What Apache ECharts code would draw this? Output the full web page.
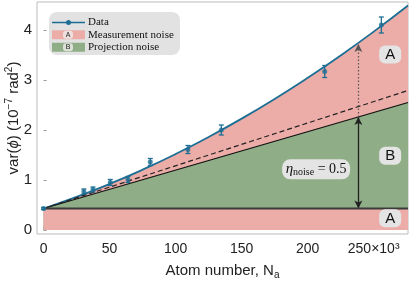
<!DOCTYPE html>
<html><head><meta charset="utf-8">
<script src="https://cdn.jsdelivr.net/npm/echarts@6/dist/echarts.min.js"></script>
<style>html,body{margin:0;padding:0;background:#fff}#c{width:415px;height:281px}</style>
</head><body><div id="c"></div>
<script>
// ---- data (x in units of 10^3 atoms, y in 10^-7 rad^2) ----
const dataX = [0, 30.5, 37.4, 50.5, 63.9, 80.8, 109.3, 134.6, 212.9, 255.8];
const dataY = [0.43, 0.77, 0.81, 0.95, 1.01, 1.36, 1.61, 2.0, 3.17, 4.1];
const dataErr = [0.02, 0.05, 0.05, 0.06, 0.06, 0.07, 0.08, 0.1, 0.12, 0.16];
const fitX = [0, 25, 50, 75, 100, 125, 150, 175, 200, 225, 250, 276];
const fitY = [0.43, 0.662, 0.921, 1.207, 1.52, 1.86, 2.227, 2.621, 3.043, 3.491, 3.967, 4.49];
const projX = [0, 276];
const projY = [0.43, 2.55];
const linX = [0, 276];
const linY = [0.43, 2.79];
const floorX = [0, 276];
const floorY = [0.43, 0.43];
const xTicks = [0, 50, 100, 150, 200, 250];
const yTicks = [0, 1, 2, 3, 4];
const arrowX = 238.4;
const arrowLevels = [0.0, 0.43, 2.26, 3.72];

const PINK = '#ecaca7', GREEN = '#8fad86', BLUE = '#1d6e94';
const pairs = (xs, ys) => xs.map((x, i) => [x, ys[i]]);

const chart = echarts.init(document.getElementById('c'), null, {renderer: 'canvas'});
const sans = 'Liberation Sans, Arial, sans-serif';
const serif = 'Liberation Serif, Times New Roman, serif';

chart.setOption({
  animation: false,
  grid: {left: 37, right: 7, top: 2, bottom: 47, show: true, borderColor: '#bbbbbb', borderWidth: 1,
         backgroundColor: 'transparent', containLabel: false, outerBoundsMode: 'none'},
  xAxis: {
    type: 'value', min: -5, max: 276,
    axisLine: {show: false}, splitLine: {show: false},
    axisTick: {show: true, inside: true, length: 3, lineStyle: {color: '#999'}, customValues: xTicks},
    axisLabel: {customValues: xTicks, color: '#222', fontFamily: sans, fontSize: 14, margin: 8,
      formatter: v => v === 250 ? '250×10³' : String(v)},
    name: '{t|Atom number, N}{s|a}', nameLocation: 'middle', nameGap: 28, nameMoveOverlap: false,
    nameTextStyle: {rich: {
      t: {fontFamily: sans, fontSize: 15, color: '#222', lineHeight: 18},
      s: {fontFamily: sans, fontSize: 10, color: '#222', lineHeight: 10, verticalAlign: 'bottom'}
    }}
  },
  yAxis: {
    type: 'value', min: -0.08, max: 4.56,
    axisLine: {show: false}, splitLine: {show: false},
    axisTick: {show: true, inside: true, length: 3, lineStyle: {color: '#999'}, customValues: yTicks},
    axisLabel: {customValues: yTicks, color: '#222', fontFamily: sans, fontSize: 15, margin: 5},
    name: '{t|var(}{i|ϕ}{t|) (10}{s|−7}{t| rad}{s|2}{t|)}', nameLocation: 'middle', nameRotate: 90, nameGap: 13,
    nameMoveOverlap: false,
    nameTextStyle: {rich: {
      t: {fontFamily: sans, fontSize: 15, color: '#222', lineHeight: 20},
      i: {fontFamily: sans, fontSize: 15, fontStyle: 'italic', color: '#222', lineHeight: 20},
      s: {fontFamily: sans, fontSize: 10, color: '#222', lineHeight: 10, verticalAlign: 'top'}
    }}
  },
  series: [
    {type: 'line', data: pairs(fitX, fitY), smooth: true, showSymbol: false, z: 2,
     lineStyle: {color: BLUE, width: 1.8}, areaStyle: {color: PINK, opacity: 1}},
    {type: 'line', data: pairs(projX, projY), showSymbol: false, z: 3,
     lineStyle: {color: '#111', width: 1.3}, areaStyle: {color: GREEN, opacity: 1}},
    {type: 'line', data: pairs(linX, linY), showSymbol: false, z: 4,
     lineStyle: {color: '#222', width: 1.2, type: [5, 3]}},
    {type: 'line', data: pairs(floorX, floorY), showSymbol: false, z: 5,
     lineStyle: {color: '#3a3a3a', width: 2}, areaStyle: {color: PINK, opacity: 1},
     markLine: {
       silent: true, animation: false, label: {show: false}, symbolSize: [6, 8],
       data: [
         [{coord: [arrowX, arrowLevels[2]], symbol: 'none', lineStyle: {type: [1.5, 2], color: '#555', width: 1.2}},
          {coord: [arrowX, arrowLevels[3]], symbol: 'arrow'}],
         [{coord: [arrowX, arrowLevels[1]], symbol: 'arrow', lineStyle: {type: 'solid', color: '#222', width: 1.3}},
          {coord: [arrowX, arrowLevels[2]], symbol: 'arrow'}],
         [{coord: [arrowX, arrowLevels[1]], symbol: 'none', lineStyle: {type: [1.5, 2], color: '#555', width: 1.2}},
          {coord: [arrowX, arrowLevels[0] + 0.04], symbol: 'arrow'}]
       ],
       lineStyle: {color: '#222'}, itemStyle: {color: '#222'}
     }},
    {type: 'custom', z: 6, data: dataX.map((x, i) => [x, dataY[i] - dataErr[i], dataY[i] + dataErr[i]]),
     renderItem: (params, api) => {
       const lo = api.coord([api.value(0), api.value(1)]);
       const hi = api.coord([api.value(0), api.value(2)]);
       const w = 2.5;
       const st = {stroke: BLUE, lineWidth: 1.3};
       return {type: 'group', children: [
         {type: 'line', shape: {x1: lo[0], y1: lo[1], x2: hi[0], y2: hi[1]}, style: st},
         {type: 'line', shape: {x1: lo[0] - w, y1: lo[1], x2: lo[0] + w, y2: lo[1]}, style: st},
         {type: 'line', shape: {x1: hi[0] - w, y1: hi[1], x2: hi[0] + w, y2: hi[1]}, style: st}
       ]};
     }},
    {type: 'scatter', z: 7, data: pairs(dataX, dataY), symbol: 'circle', symbolSize: 5,
     itemStyle: {color: BLUE}}
  ]
});

// annotation boxes placed in data coordinates
const boxes = [
  {pos: [262.5, 3.51], text: 'A'},
  {pos: [262.5, 1.486], text: 'B'},
  {pos: [262.5, 0.234], text: 'A'}
];
const g = [];
boxes.forEach(b => {
  const p = chart.convertToPixel({gridIndex: 0}, b.pos);
  g.push({type: 'rect', shape: {x: p[0] - 11, y: p[1] - 9, width: 22, height: 18, r: 6},
          style: {fill: '#e4e4e4'}, z: 20});
  g.push({type: 'text', x: p[0], y: p[1] + 0.5, style: {text: b.text, fill: '#111', font: '15px ' + sans,
          align: 'center', verticalAlign: 'middle'}, z: 21});
});
const ep = chart.convertToPixel({gridIndex: 0}, [206.4, 1.214]);
g.push({type: 'rect', shape: {x: ep[0] - 34, y: ep[1] - 10, width: 68, height: 20, r: 8},
        style: {fill: '#e4e4e4'}, z: 20});
g.push({type: 'text', x: ep[0], y: ep[1], z: 21, style: {
  text: '{e|η}{s|noise}{t| = 0.5}', align: 'center', verticalAlign: 'middle',
  rich: {
    e: {font: 'italic 15px ' + serif, fill: '#111', lineHeight: 16},
    s: {font: '10px ' + serif, fill: '#111', lineHeight: 10, verticalAlign: 'bottom'},
    t: {font: '14px ' + serif, fill: '#111', lineHeight: 16}
  }}});

// legend
const lx = 49, ly = 12;
g.push({type: 'rect', shape: {x: lx, y: ly, width: 131, height: 43, r: 8}, style: {fill: '#e2e2e2'}, z: 30});
g.push({type: 'line', shape: {x1: 52, y1: 22.5, x2: 85, y2: 22.5}, style: {stroke: BLUE, lineWidth: 1.5}, z: 31});
g.push({type: 'circle', shape: {cx: 68.5, cy: 22.5, r: 2.5}, style: {fill: BLUE}, z: 32});
[[34.8, PINK, 'A', 'Measurement noise'], [47.3, GREEN, 'B', 'Projection noise']].forEach(r => {
  g.push({type: 'rect', shape: {x: 52, y: r[0] - 4.5, width: 33, height: 9}, style: {fill: r[1]}, z: 31});
  g.push({type: 'rect', shape: {x: 63, y: r[0] - 4, width: 10, height: 8, r: 3}, style: {fill: '#eeeeee', opacity: 0.8}, z: 32});
  g.push({type: 'text', x: 68, y: r[0], style: {text: r[2], font: '7px ' + sans, fill: '#222', align: 'center', verticalAlign: 'middle'}, z: 33});
  g.push({type: 'text', x: 88, y: r[0], style: {text: r[3], font: '11px ' + serif, fill: '#111', align: 'left', verticalAlign: 'middle'}, z: 33});
});
g.push({type: 'text', x: 88, y: 22.5, style: {text: 'Data', font: '11px ' + serif, fill: '#111', align: 'left', verticalAlign: 'middle'}, z: 33});

chart.setOption({graphic: g});
</script>
</body></html>
